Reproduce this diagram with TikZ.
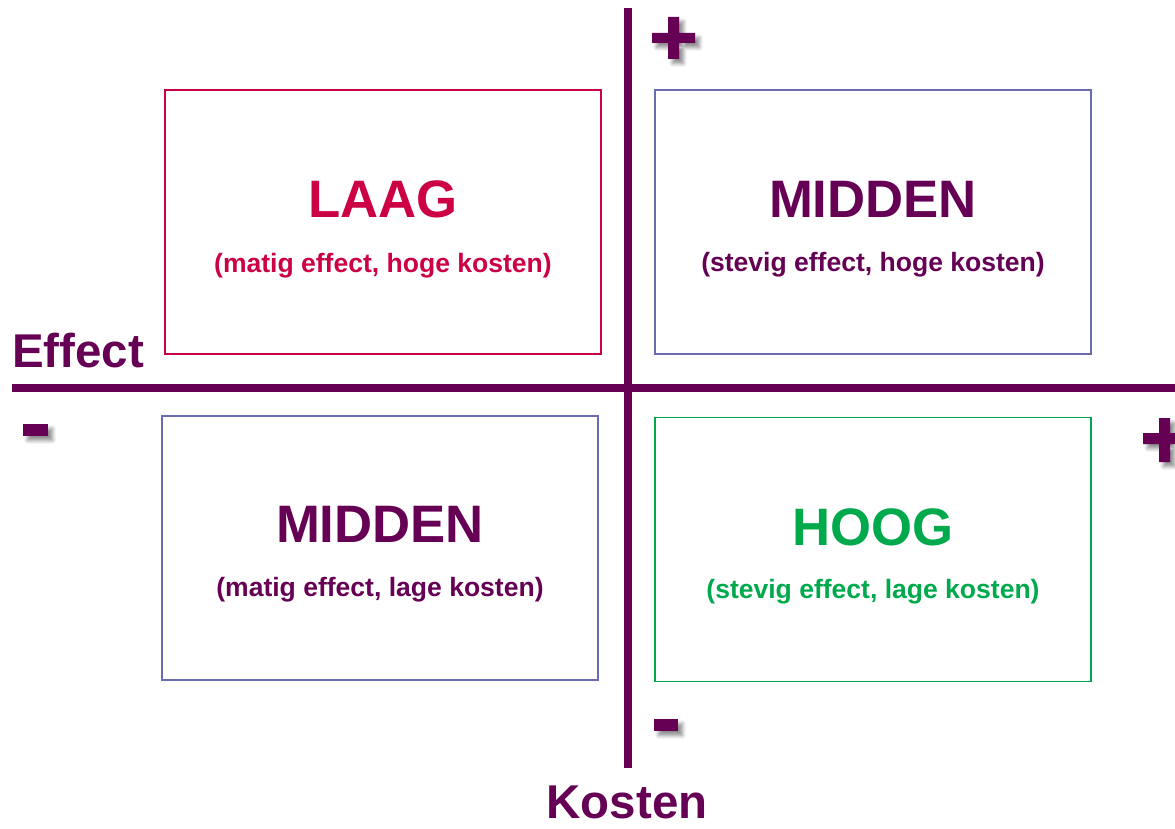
\documentclass[tikz,border=0pt]{standalone}
\usepackage{fontspec}
\setmainfont{Liberation Sans}
\usetikzlibrary{positioning,shadows.blur}
\definecolor{paars}{HTML}{660055}
\definecolor{rood}{HTML}{CC0044}
\definecolor{groen}{HTML}{00AA4C}
\definecolor{blauwrand}{HTML}{6B6BB0}

\begin{document}
\begin{tikzpicture}[x=0.02cm,y=-0.02cm,
    vak/.style={draw,line width=1.1pt,minimum width=8.72cm,minimum height=5.28cm},
    titel/.style={font=\bfseries\fontsize{30}{30}\selectfont},
    sub/.style={font=\bfseries\fontsize{15.1}{16}\selectfont},
    as/.style={draw=paars,line width=4pt},
    teken/.style={fill=paars,blur shadow={shadow xshift=0.09cm,shadow yshift=-0.09cm,shadow blur steps=6,shadow opacity=45}}]
        \useasboundingbox (0,0) rectangle (1175,828);
        % assen
        \coordinate (xl) at (12,388);
        \coordinate (xr) at (1175,388);
        \coordinate (yt) at (628,8);
        \coordinate (yb) at (628,768);
        \draw[as] (xl) -- (xr);
        \draw[as] (yt) -- (yb);
        \node[anchor=base west,text=paars,font=\bfseries\fontsize{27}{27}\selectfont] (effect) at (6,367) {Effect};
        \node[anchor=base,inner sep=0pt,text=paars,font=\bfseries\fontsize{27}{27}\selectfont] (kosten) at (627,818) {Kosten};
        % plus en min
        \fill[teken] (652,33) rectangle (695,43) (668,17) rectangle (679,59);
        \fill[teken] (23,424) rectangle (48,436);
        \fill[teken] (1143,433) rectangle (1186,444) (1159,418) rectangle (1170,462);
        \fill[teken] (654,719) rectangle (678,731);
        % vakken
        \node[vak,draw=rood] (laag) at (383,222) {};
        \node[vak,draw=blauwrand] (middenb) at (873,222) {};
        \node[vak,draw=blauwrand] (middeno) at (380,548) {};
        \node[vak,draw=groen] (hoog) at (873,549.5) {};
        \node[titel,text=rood] (laagt) at ([yshift=0.45cm]laag.center) {LAAG};
        \node[sub,text=rood] (laags) at ([yshift=-0.87cm]laag.center) {(matig effect, hoge kosten)};
        \node[titel,text=paars] (middenbt) at ([yshift=0.45cm]middenb.center) {MIDDEN};
        \node[sub,text=paars] (middenbs) at ([yshift=-0.85cm]middenb.center) {(stevig effect, hoge kosten)};
        \node[titel,text=paars] (middenot) at ([yshift=0.47cm]middeno.center) {MIDDEN};
        \node[sub,text=paars] (middenos) at ([yshift=-0.83cm]middeno.center) {(matig effect, lage kosten)};
        \node[titel,text=groen] (hoogt) at ([yshift=0.44cm]hoog.center) {HOOG};
        \node[sub,text=groen] (hoogs) at ([yshift=-0.84cm]hoog.center) {(stevig effect, lage kosten)};
    \end{tikzpicture}
\end{document}
